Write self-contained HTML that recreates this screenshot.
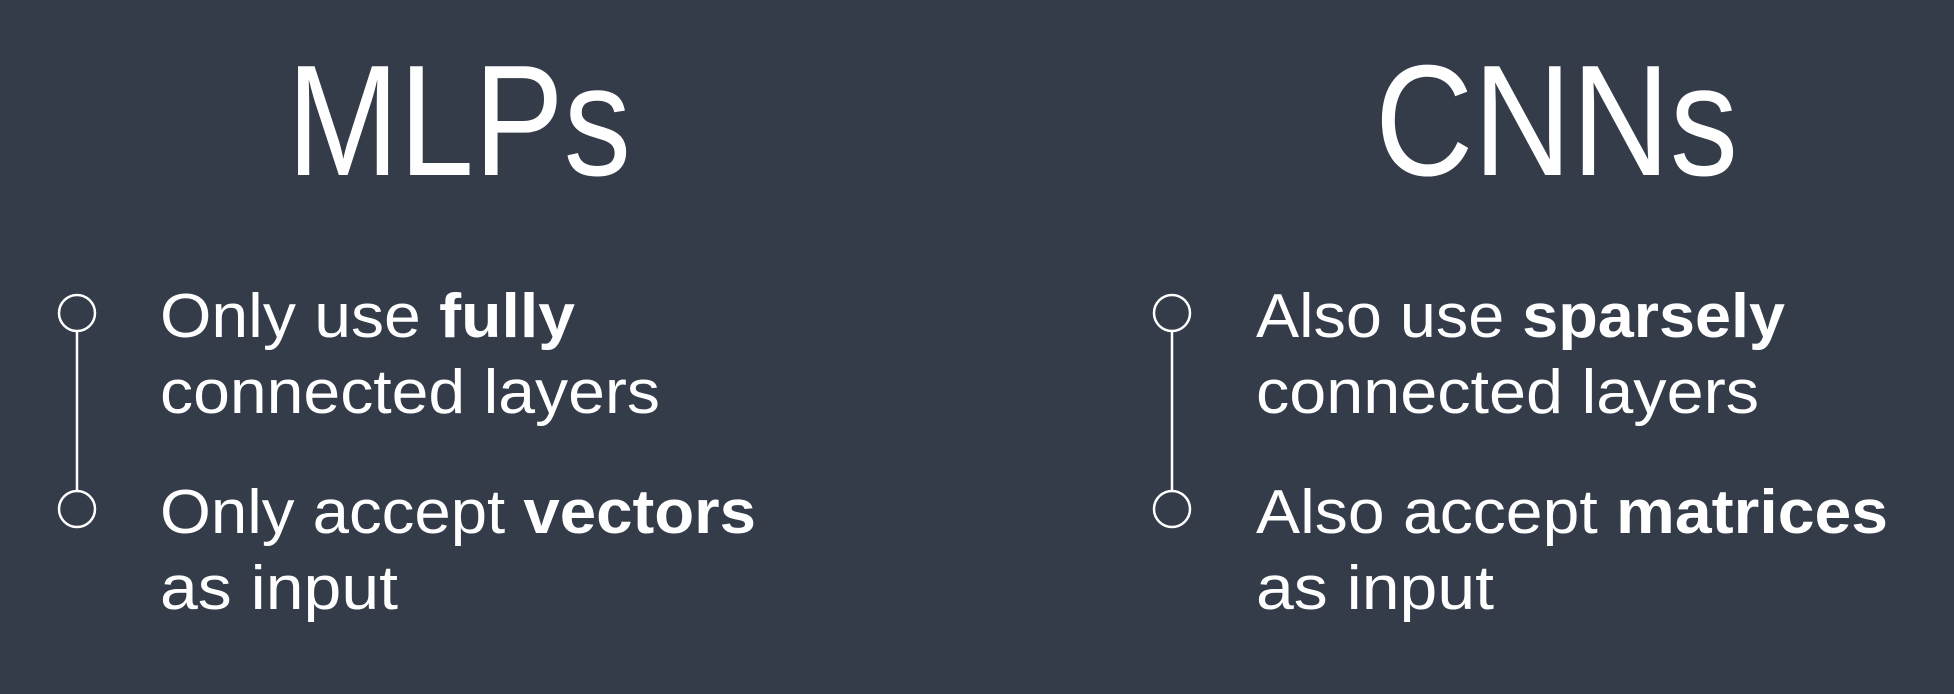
<!DOCTYPE html>
<html><head><meta charset="utf-8"><style>
html,body{margin:0;padding:0;background:#343c4a;}
svg{display:block}
text{fill:#fff;font-family:"Liberation Sans",sans-serif;}
</style></head><body>
<svg width="1954" height="694" viewBox="0 0 1954 694">
<rect width="1954" height="694" fill="#343c4a"/>
<text x="287" y="175" font-size="158" textLength="344" lengthAdjust="spacingAndGlyphs">MLPs</text>
<text x="1375" y="175" font-size="158" textLength="363" lengthAdjust="spacingAndGlyphs">CNNs</text>

<g stroke="#fff" stroke-width="2.5" fill="none">
<line x1="77" y1="331" x2="77" y2="491"/>
<circle cx="77" cy="313" r="18"/>
<circle cx="77" cy="509" r="18"/>
</g>
<g stroke="#fff" stroke-width="2.5" fill="none">
<line x1="1172" y1="331" x2="1172" y2="491"/>
<circle cx="1172" cy="313" r="18"/>
<circle cx="1172" cy="509" r="18"/>
</g>

<g font-size="62">
<text x="160" y="337" textLength="415" lengthAdjust="spacingAndGlyphs">Only use <tspan font-weight="bold">fully</tspan></text>
<text x="160" y="413" textLength="500" lengthAdjust="spacingAndGlyphs">connected layers</text>
<text x="160" y="533" textLength="596" lengthAdjust="spacingAndGlyphs">Only accept <tspan font-weight="bold">vectors</tspan></text>
<text x="160" y="609" textLength="238" lengthAdjust="spacingAndGlyphs">as input</text>

<text x="1256" y="337" textLength="529" lengthAdjust="spacingAndGlyphs">Also use <tspan font-weight="bold">sparsely</tspan></text>
<text x="1256" y="413" textLength="503" lengthAdjust="spacingAndGlyphs">connected layers</text>
<text x="1256" y="533" textLength="632" lengthAdjust="spacingAndGlyphs">Also accept <tspan font-weight="bold">matrices</tspan></text>
<text x="1256" y="609" textLength="238" lengthAdjust="spacingAndGlyphs">as input</text>
</g>
</svg>
</body></html>
